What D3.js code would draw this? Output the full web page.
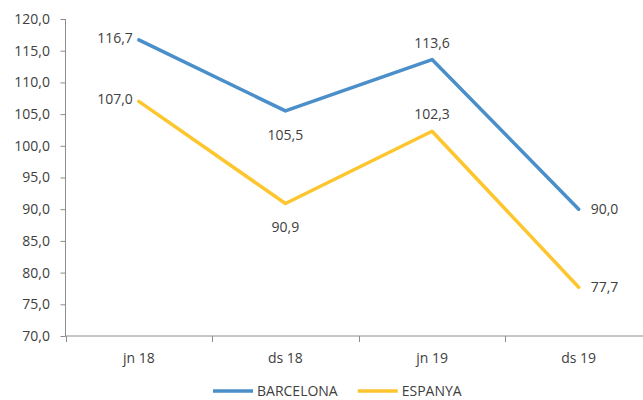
<!DOCTYPE html>
<html>
<head>
<meta charset="utf-8">
<script src="https://cdn.jsdelivr.net/npm/d3@7"></script>
<style>
  html, body { margin: 0; padding: 0; background: #fff; }
  svg { display: block; }
  text { font-family: "Open Sans", "Liberation Sans", sans-serif; fill: #404040; }
</style>
</head>
<body>
<svg id="chart" width="643" height="400"></svg>
<script>
const categories = ["jn 18", "ds 18", "jn 19", "ds 19"];
const seriesNames = ["BARCELONA", "ESPANYA"];
const barcelona = [116.7, 105.5, 113.6, 90.0];
const espanya = [107.0, 90.9, 102.3, 77.7];
const yTicks = [70, 75, 80, 85, 90, 95, 100, 105, 110, 115, 120];
// label placement per point: "left", "below", "above", "right"
const barcelonaLabelPos = ["left", "below", "above", "right"];
const espanyaLabelPos = ["left", "below", "above", "right"];

const colors = ["#4a8fc9", "#fdc62f"];
const series = [
  { name: seriesNames[0], values: barcelona, pos: barcelonaLabelPos, color: colors[0] },
  { name: seriesNames[1], values: espanya, pos: espanyaLabelPos, color: colors[1] }
];

const locale = d3.formatLocale({ decimal: ",", thousands: ".", grouping: [3], currency: ["", "€"] });
const fmt = locale.format(".1f");

const svg = d3.select("#chart");
const plotLeft = 65.5, plotRight = 652, plotTop = 19, plotBottom = 336;

const x = d3.scaleBand().domain(categories).range([plotLeft, plotRight]).paddingInner(0).paddingOuter(0);
const y = d3.scaleLinear().domain([70, 120]).range([plotBottom, plotTop]);
const cx = c => x(c) + x.bandwidth() / 2;

const axisColor = "#8c8c8c";

// Y axis
const yAxis = svg.append("g")
  .attr("transform", `translate(${plotLeft},0)`)
  .call(d3.axisLeft(y).tickValues(yTicks).tickFormat(fmt).tickSize(5).tickPadding(10.5));
yAxis.select(".domain").attr("stroke", axisColor).attr("d", `M0,${plotTop}V${plotBottom}`);
yAxis.selectAll(".tick line").attr("stroke", axisColor);
yAxis.selectAll(".tick text").attr("font-size", "14px").attr("fill", "#404040")
  .style("font-family", '"Open Sans", sans-serif');

// X axis
const xg = svg.append("g");
xg.append("line")
  .attr("x1", plotLeft).attr("x2", plotRight)
  .attr("y1", plotBottom).attr("y2", plotBottom)
  .attr("stroke", axisColor).attr("stroke-width", 1);
const boundaries = categories.map(c => x(c)).concat([x(categories[categories.length - 1]) + x.bandwidth()]);
xg.selectAll("line.tick").data(boundaries).enter().append("line")
  .attr("class", "tick")
  .attr("x1", d => Math.round(d) + 0.5).attr("x2", d => Math.round(d) + 0.5)
  .attr("y1", plotBottom).attr("y2", plotBottom + 6)
  .attr("stroke", axisColor);
xg.selectAll("text").data(categories).enter().append("text")
  .attr("x", d => cx(d)).attr("y", 363)
  .attr("text-anchor", "middle").attr("font-size", "14px")
  .text(d => d);

// Lines
const line = d3.line().x((d, i) => cx(categories[i])).y(d => y(d));
series.forEach(s => {
  svg.append("path")
    .datum(s.values)
    .attr("fill", "none")
    .attr("stroke", s.color)
    .attr("stroke-width", 3.5)
    .attr("stroke-linejoin", "round")
    .attr("stroke-linecap", "round")
    .attr("d", line);
});

// Data labels
series.forEach(s => {
  s.values.forEach((v, i) => {
    const px = cx(categories[i]), py = y(v);
    const p = s.pos[i];
    const t = svg.append("text").attr("font-size", "14px").text(fmt(v));
    if (p === "left") {
      t.attr("x", px - 6).attr("y", py + 3).attr("text-anchor", "end");
    } else if (p === "right") {
      t.attr("x", px + 12).attr("y", py + 5).attr("text-anchor", "start");
    } else if (p === "below") {
      t.attr("x", px).attr("y", py + 29).attr("text-anchor", "middle");
    } else {
      t.attr("x", px).attr("y", py - 12).attr("text-anchor", "middle");
    }
  });
});

// Legend
const lg = svg.append("g");
let lx = 213;
const ly = 391;
series.forEach(s => {
  lg.append("line")
    .attr("x1", lx).attr("x2", lx + 40)
    .attr("y1", ly).attr("y2", ly)
    .attr("stroke", s.color).attr("stroke-width", 3.5);
  const t = lg.append("text")
    .attr("x", lx + 44).attr("y", ly + 5)
    .attr("font-size", "14px")
    .text(s.name);
  lx = lx + 44 + t.node().getComputedTextLength() + 20;
});
</script>
</body>
</html>
